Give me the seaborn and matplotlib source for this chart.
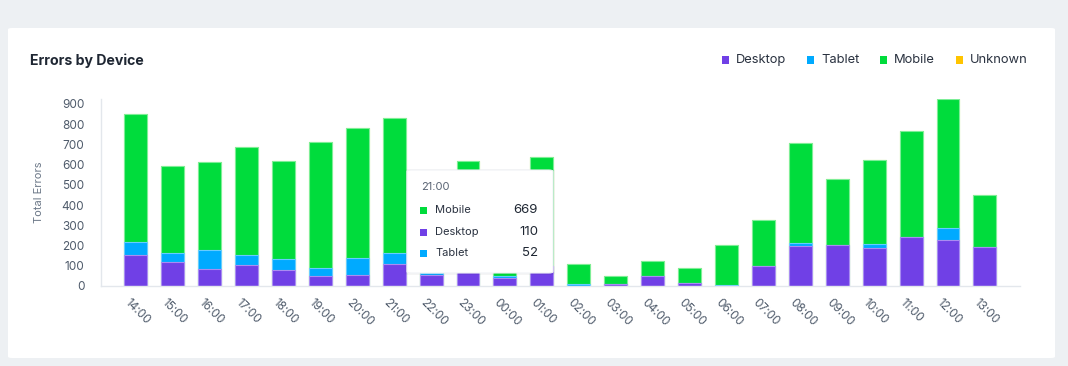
import seaborn as sns
import matplotlib.pyplot as plt
import matplotlib.transforms as mtrans
import pandas as pd
from matplotlib.patches import FancyBboxPatch, Rectangle

# ------------------------------------------------------------
# Data
# ------------------------------------------------------------
hours = ["14:00", "15:00", "16:00", "17:00", "18:00", "19:00", "20:00", "21:00",
         "22:00", "23:00", "00:00", "01:00", "02:00", "03:00", "04:00", "05:00",
         "06:00", "07:00", "08:00", "09:00", "10:00", "11:00", "12:00", "13:00"]
desktop = [151, 118, 84, 104, 79, 48, 56, 110, 52, 95, 42, 100,
           2, 8, 47, 13, 1, 97, 196, 202, 186, 240, 225, 193]
tablet = [66, 45, 94, 49, 54, 39, 80, 52, 12, 0, 8, 0,
          8, 0, 0, 0, 4, 0, 16, 0, 21, 0, 63, 0]
mobile = [635, 431, 434, 535, 484, 627, 644, 669, 380, 522, 200, 539,
          100, 39, 77, 76, 199, 231, 494, 326, 414, 524, 636, 259]
unknown = [0] * 24

devices = ["Desktop", "Tablet", "Mobile", "Unknown"]
colors = {"Desktop": "#7040e6", "Tablet": "#00aaff", "Mobile": "#00dc3c", "Unknown": "#ffc400"}
edges = {"Desktop": "#a98cf2", "Tablet": "#66ccff", "Mobile": "#7dee98", "Unknown": "#ffdd66"}

df = pd.DataFrame({"hour": hours, "Desktop": desktop, "Tablet": tablet,
                   "Mobile": mobile, "Unknown": unknown})
df["lvl_desktop"] = df["Desktop"]
df["lvl_tablet"] = df["lvl_desktop"] + df["Tablet"]
df["lvl_mobile"] = df["lvl_tablet"] + df["Mobile"]
df["lvl_unknown"] = df["lvl_mobile"] + df["Unknown"]

# ------------------------------------------------------------
# Figure / card
# ------------------------------------------------------------
sns.set_style("white")
plt.rcParams["font.family"] = ["Inter", "DejaVu Sans"]

W, H = 1068, 366
fig = plt.figure(figsize=(W / 100, H / 100), dpi=100)
fig.patch.set_facecolor("#edf0f3")

def fx(px):
    return px / W

def fy(py):
    return 1 - py / H

card = FancyBboxPatch((fx(8), fy(358)), fx(1055) - fx(8), fy(28) - fy(358),
                      boxstyle="round,pad=0,rounding_size=0.004",
                      transform=fig.transFigure, facecolor="white",
                      edgecolor="none", zorder=-5)
fig.patches.append(card)

fig.text(fx(30), fy(61), "Errors by Device", fontsize=10.2, fontweight="bold",
         color="#1f2733", va="center")

# ------------------------------------------------------------
# Stacked bars (layered cumulative totals)
# ------------------------------------------------------------
ax = fig.add_axes([fx(101), fy(286), fx(1020) - fx(101), fy(99) - fy(286)])
ax.set_facecolor("none")

for dev, col in [("Unknown", "lvl_unknown"), ("Mobile", "lvl_mobile"),
                 ("Tablet", "lvl_tablet"), ("Desktop", "lvl_desktop")]:
    sns.barplot(data=df, x="hour", y=col, color=colors[dev], ax=ax,
                width=0.62, saturation=1, edgecolor=edges[dev], linewidth=0.8)

ax.set_xlim(-0.94, 23.95)
ax.set_ylim(0, df["lvl_unknown"].max())
ax.set_yticks(range(0, 1000, 100))
ax.set_xlabel("")
ax.set_ylabel("Total Errors", fontsize=8, color="#6b7787")
ax.yaxis.set_label_coords((44 - 101) / 919, 0.5)
ax.tick_params(axis="y", labelsize=8.5, colors="#4f5b6b", length=0, pad=12)
ax.tick_params(axis="x", labelsize=8.5, colors="#4f5b6b", length=0, pad=8)
shift = mtrans.ScaledTranslation(-5 / 100, 0, fig.dpi_scale_trans)
for lbl in ax.get_xticklabels():
    lbl.set_rotation(-45)
    lbl.set_ha("left")
    lbl.set_rotation_mode("anchor")
    lbl.set_transform(lbl.get_transform() + shift)
for side in ["top", "right"]:
    ax.spines[side].set_visible(False)
for side in ["left", "bottom"]:
    ax.spines[side].set_color("#e3e7ec")
    ax.spines[side].set_linewidth(1)

# ------------------------------------------------------------
# Legend (top right)
# ------------------------------------------------------------
leg_x = [722, 807, 880, 956]
for x0, dev in zip(leg_x, devices):
    fig.patches.append(Rectangle((fx(x0), fy(63.5)), fx(7), 7 / H,
                                 transform=fig.transFigure,
                                 facecolor=colors[dev], edgecolor="none"))
    fig.text(fx(x0 + 14), fy(60), dev, fontsize=9.3, color="#2a3240", va="center")

# ------------------------------------------------------------
# Tooltip for 21:00
# ------------------------------------------------------------
i = hours.index("21:00")
shadow = FancyBboxPatch((fx(405), fy(275)), fx(150), 106 / H,
                        boxstyle="round,pad=0,rounding_size=0.004",
                        transform=fig.transFigure, facecolor="#000000",
                        alpha=0.04, edgecolor="none", zorder=5)
tip = FancyBboxPatch((fx(407), fy(273)), fx(146), 103 / H,
                     boxstyle="round,pad=0,rounding_size=0.004",
                     transform=fig.transFigure, facecolor="white",
                     edgecolor="#f0f2f5", linewidth=0.8, zorder=6)
fig.patches.extend([shadow, tip])
fig.text(fx(421), fy(187), hours[i], fontsize=8, color="#5a6474",
         va="center", zorder=7)
rows = [("Mobile", mobile[i], 210), ("Desktop", desktop[i], 232), ("Tablet", tablet[i], 253)]
for dev, val, ypx in rows:
    fig.patches.append(Rectangle((fx(420), fy(ypx + 3.5)), fx(7), 7 / H,
                                 transform=fig.transFigure, facecolor=colors[dev],
                                 edgecolor="none", zorder=7))
    fig.text(fx(435), fy(ypx), dev, fontsize=8, color="#2a3240", va="center", zorder=7)
    fig.text(fx(538), fy(ypx), str(val), fontsize=9.5, color="#1f2733",
             va="center", ha="right", zorder=7)

plt.savefig("out.png", dpi=100, facecolor=fig.get_facecolor())
